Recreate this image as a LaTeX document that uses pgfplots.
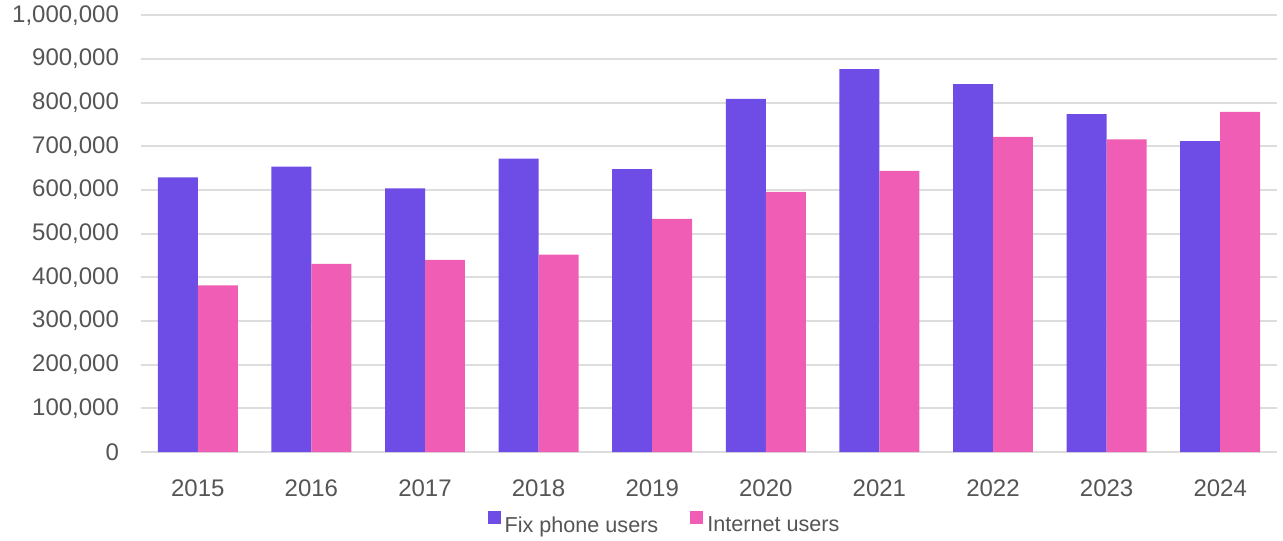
\documentclass[border=0pt]{standalone}
\usepackage{pgfplots}
\pgfplotsset{compat=1.18}
\usepackage{fontspec}
\setmainfont{Liberation Sans}
\definecolor{fixc}{HTML}{6E4CE6}
\definecolor{netc}{HTML}{F05DB4}
\definecolor{txt}{HTML}{555555}
\definecolor{gridc}{HTML}{DDDDDD}
\begin{document}
\begin{tikzpicture}
\useasboundingbox (-70.5pt,-44pt) rectangle (571pt,226pt);
\begin{axis}[
  at={(0,0)}, anchor=south west,
  scale only axis, width=568pt, height=218.25pt,
  xmin=-0.5, xmax=9.5, ymin=0, ymax=1000000,
  ybar, bar width=0.352,
  xtick={0,...,9},
  xticklabels={2015,2016,2017,2018,2019,2020,2021,2022,2023,2024},
  ytick={0,100000,...,1000000},
  scaled y ticks=false,
  /pgf/number format/.cd, fixed, 1000 sep={,}, assume math mode=true, /pgfplots/.cd,
  ymajorgrids, major grid style={color=gridc, line width=1pt},
  axis line style={draw=none}, tick style={draw=none},
  ticklabel style={font=\fontsize{12}{14}\selectfont, text=txt},
  yticklabel style={xshift=-7.5pt},
  xticklabel style={yshift=-6pt},
  legend columns=2,
  legend style={draw=none, fill=none, at={(0.4617,-0.168)}, anchor=center,
    font=\fontsize{10.8}{12}\selectfont, text=txt,
    /tikz/column 2/.style={column sep=14pt}},
  legend image code/.code={\fill[#1] (0pt,0.8pt) rectangle (6.5pt,7.3pt);},
]
\addplot[fill=fixc, draw=none, bar shift=-0.176] coordinates {
 (0,629000) (1,654000) (2,604000) (3,672000) (4,648000)
 (5,809000) (6,877000) (7,843000) (8,774000) (9,712000)};
\addplot[fill=netc, draw=none, bar shift=0.176] coordinates {
 (0,382000) (1,431000) (2,440000) (3,452000) (4,534000)
 (5,596000) (6,644000) (7,722000) (8,716000) (9,779000)};
\legend{Fix phone users, Internet users}
\end{axis}
\end{tikzpicture}
\end{document}
